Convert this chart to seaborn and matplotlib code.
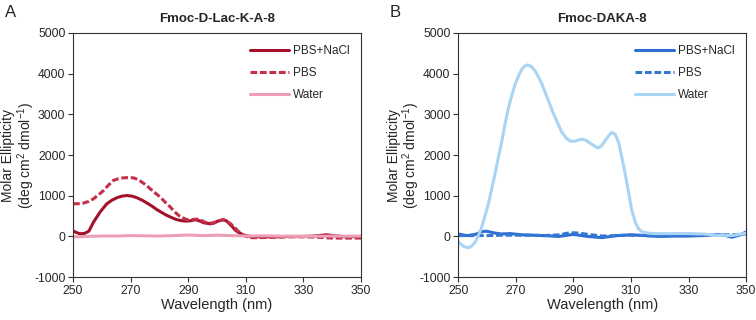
import numpy as np
import pandas as pd
import seaborn as sns
import matplotlib.pyplot as plt

sns.set_style('white')
plt.rcParams['font.family'] = ['Liberation Sans', 'DejaVu Sans']
plt.rcParams['mathtext.fontset'] = 'custom'
plt.rcParams['mathtext.rm'] = 'Liberation Sans'
plt.rcParams['axes.unicode_minus'] = False

# Panel A: Fmoc-D-Lac-K-A-8
wl_a_nacl = [250, 251, 252.4, 254, 255.5, 257.1, 259.4, 261.7, 263.5, 265.2, 267, 268.7, 270.5, 272.2, 274, 275.7, 277.5, 279.2, 281, 282.6, 284.5, 286.1, 287.5, 289, 290.8, 292.5, 294, 295.4, 297.7, 299, 300.1, 301.2, 302.2, 303.2, 304.1, 305.3, 306.4, 307.6, 308.8, 310, 311.7, 315, 320, 325, 330, 334, 338, 341, 345, 350]
a_nacl = [140, 100, 65, 75, 130, 350, 600, 800, 890, 950, 990, 1005, 990, 950, 890, 820, 740, 655, 580, 515, 455, 410, 390, 375, 385, 410, 380, 335, 310, 330, 370, 395, 410, 385, 325, 240, 150, 90, 50, 20, 0, -10, -10, 0, 0, 10, 40, 15, -10, 0]
wl_a_pbs = [250, 252, 253.6, 255.5, 257.1, 259, 260.6, 262.3, 264, 265.8, 267.5, 269.3, 271, 272.5, 273.9, 275.4, 276.8, 278.5, 280.3, 282, 283.8, 285.2, 286.7, 288.2, 289.6, 291.3, 293.1, 295, 296.6, 298.4, 300.1, 301.2, 302.2, 303.5, 304.7, 306, 307, 308.2, 309.3, 310.5, 311.7, 315, 320, 325, 330, 335, 340, 345, 350]
a_pbs = [800, 805, 820, 860, 925, 1030, 1130, 1260, 1375, 1420, 1440, 1445, 1440, 1400, 1335, 1260, 1170, 1070, 965, 840, 720, 610, 515, 455, 410, 415, 425, 380, 325, 330, 370, 395, 410, 370, 310, 230, 150, 80, 25, -10, -30, -30, -20, -10, -10, -20, -40, -40, -40]
wl_a_water = [250, 255, 260, 265, 270, 275, 280, 285, 290, 295, 300, 305, 310, 315, 320, 325, 330, 335, 340, 345, 350]
a_water = [-10, 0, 10, 10, 20, 15, 10, 20, 35, 20, 30, 20, 10, 15, 10, 5, 0, 5, 10, 5, 10]

# Panel B: Fmoc-DAKA-8
wl_b_nacl = [250, 253, 256, 258, 259.5, 261, 263, 265, 268, 272, 276, 280, 285, 290, 295, 300, 305, 310, 315, 320, 325, 330, 335, 340, 343, 345, 348, 350]
b_nacl = [60, 20, 50, 110, 130, 110, 80, 60, 70, 40, 30, 20, 0, 50, 0, -30, 20, 40, 20, 0, 10, 10, 20, 50, 20, -20, 40, 110]
wl_b_pbs = [250, 255, 260, 265, 270, 275, 280, 285, 288, 290, 292, 295, 300, 305, 310, 315, 320, 325, 330, 335, 340, 345, 350]
b_pbs = [20, 20, 20, 30, 30, 30, 20, 40, 80, 90, 80, 50, 10, 20, 30, 20, 10, 20, 20, 30, 40, 40, 60]
wl_b_water = [250, 250.7, 252, 253.6, 254.8, 255.9, 257, 258.2, 259.3, 260.5, 261.6, 262.8, 264, 265.2, 266.3, 267.5, 268.7, 269.8, 271, 272.1, 273.2, 274.2, 275.5, 276.7, 277.9, 279.1, 280.2, 281.4, 282.5, 283.7, 284.9, 286, 287.5, 288.9, 290.5, 291.8, 292.9, 294.4, 295.8, 297.2, 298.5, 299.8, 301, 302.2, 303.4, 304.6, 305.7, 306.8, 308, 309.2, 310.3, 311.5, 312.7, 314, 316, 318, 320, 325, 330, 335, 340, 345, 350]
b_water = [-120, -180, -250, -278, -230, -140, 20, 230, 500, 800, 1150, 1540, 1950, 2350, 2770, 3170, 3480, 3740, 3950, 4110, 4190, 4215, 4170, 4070, 3920, 3740, 3540, 3330, 3120, 2920, 2730, 2560, 2420, 2340, 2340, 2370, 2390, 2360, 2290, 2230, 2170, 2230, 2350, 2470, 2560, 2500, 2310, 1950, 1540, 1070, 640, 350, 180, 110, 80, 70, 70, 70, 70, 60, 30, 20, 80]

panels = [
    dict(title='Fmoc-D-Lac-K-A-8', letter='A',
         series=[('PBS+NaCl', wl_a_nacl, a_nacl, '#a3122b', '-'),
                 ('PBS', wl_a_pbs, a_pbs, '#c42f4c', (0, (2.2, 0.9))),
                 ('Water', wl_a_water, a_water, '#ec9fb6', '-')]),
    dict(title='Fmoc-DAKA-8', letter='B',
         series=[('PBS+NaCl', wl_b_nacl, b_nacl, '#2d6fd0', '-'),
                 ('PBS', wl_b_pbs, b_pbs, '#3577d4', (0, (2.2, 0.9))),
                 ('Water', wl_b_water, b_water, '#a8d4f6', '-')]),
]

fig = plt.figure(figsize=(7.56, 3.2), dpi=100)
lefts = [0.0966, 0.606]

for p, left in zip(panels, lefts):
    ax = fig.add_axes([left, 0.134, 0.381, 0.763])
    for name, x, y, color, ls in p['series']:
        df = pd.DataFrame({'wl': x, 'val': y})
        sns.lineplot(data=df, x='wl', y='val', ax=ax, color=color, linestyle=ls,
                     linewidth=2.2, label=name)
    ax.set_xlim(250, 350)
    ax.set_ylim(-1000, 5000)
    ax.set_xticks(np.arange(250, 351, 20))
    ax.set_yticks(np.arange(-1000, 5001, 1000))
    ax.tick_params(direction='out', length=3.5, width=0.8, labelsize=8.7, color='#333333',
                   pad=2, bottom=True, left=True)
    for s in ax.spines.values():
        s.set_color('#333333')
        s.set_linewidth(0.8)
    ax.set_xlabel('Wavelength (nm)', fontsize=10.5, labelpad=1)
    ax.set_ylabel('Molar Ellipticity\n(deg cm$^2$ dmol$^{-1}$)', fontsize=10,
                  linespacing=1.0)
    ax.yaxis.set_label_coords(-0.125, 0.5)
    ax.set_title(p['title'], fontsize=9.5, fontweight='bold', pad=8)
    ax.legend(loc='upper right', frameon=False, fontsize=8.5, handlelength=3.3,
              handletextpad=0.3, labelspacing=0.85, borderaxespad=0.6)
    fig.text(left - 0.09, 0.985, p['letter'], fontsize=12, va='top', ha='left')

plt.savefig('out.png', dpi=100)
